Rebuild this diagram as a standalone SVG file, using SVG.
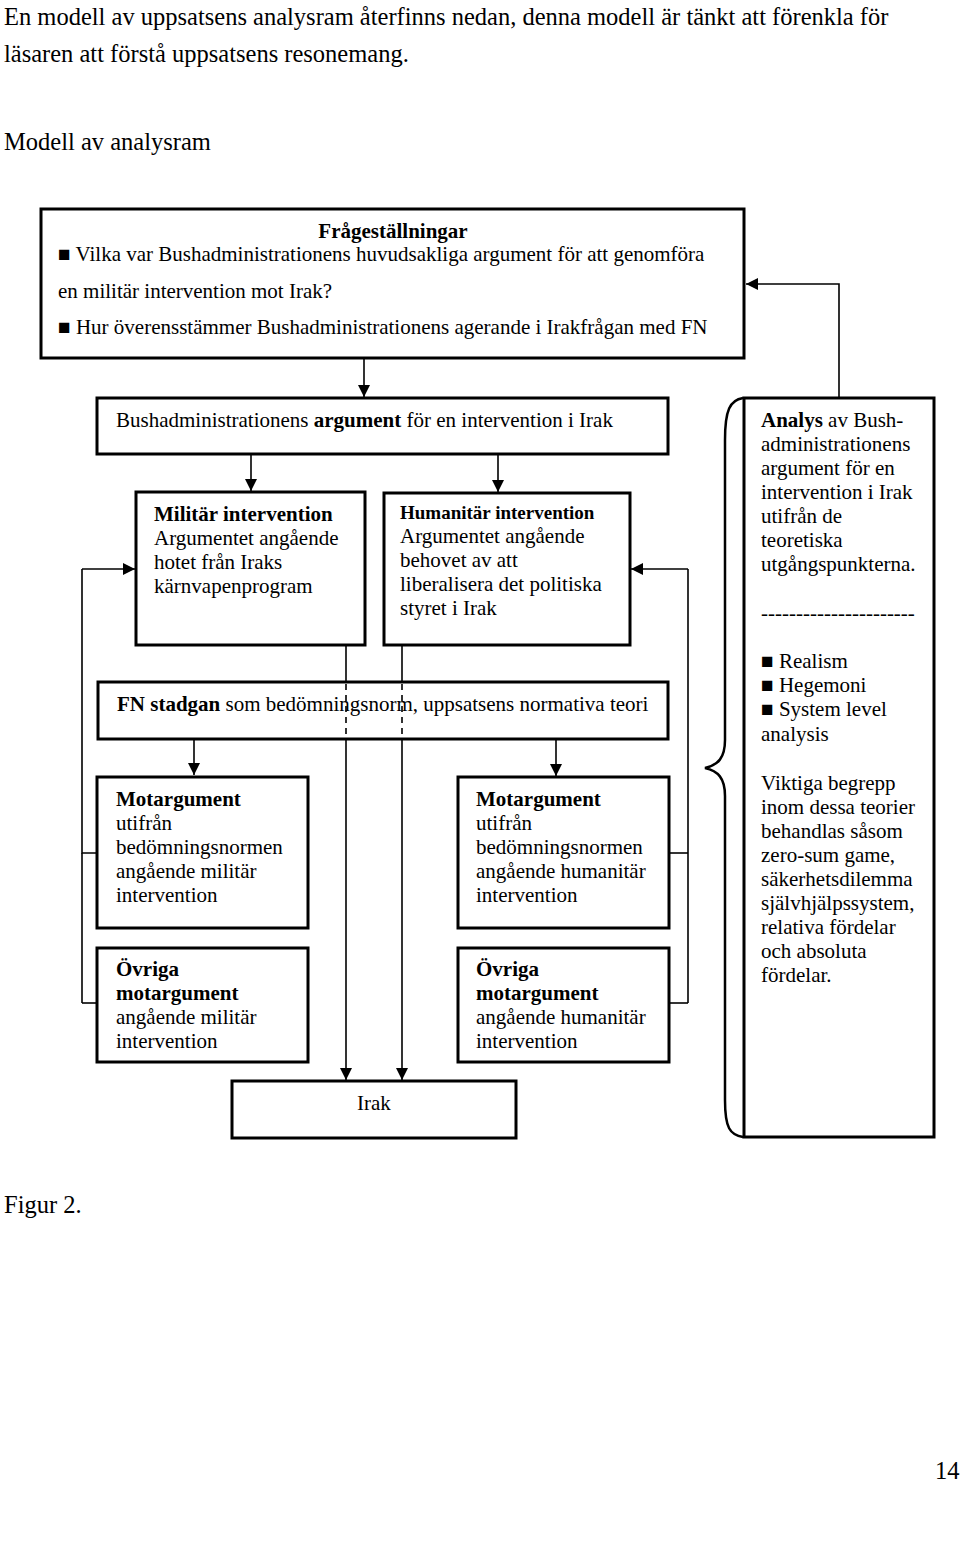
<svg xmlns="http://www.w3.org/2000/svg" width="960" height="1543" viewBox="0 0 960 1543">
<style>
text{font-family:"Liberation Serif","Times New Roman",serif;fill:#000}
.t{font-size:21px}
.h{font-size:24.5px}
.b{font-weight:bold}
.box{fill:#fff;stroke:#000;stroke-width:3}
.c{fill:none;stroke:#000;stroke-width:1.6}
.d{fill:none;stroke:#000;stroke-width:1.6;stroke-dasharray:6,5}
</style>
<defs>
<marker id="ah" viewBox="0 0 12 12" refX="12" refY="6" markerWidth="12" markerHeight="12" markerUnits="userSpaceOnUse" orient="auto">
<path d="M0,0 L12,6 L0,12 Z" fill="#000"/>
</marker>
</defs>
<rect width="960" height="1543" fill="#fff"/>
<text class="h" x="4" y="25">En modell av uppsatsens analysram återfinns nedan, denna modell är tänkt att förenkla för</text>
<text class="h" x="4" y="62">läsaren att förstå uppsatsens resonemang.</text>
<text class="h" x="4" y="150">Modell av analysram</text>

<g id="connectors">
<polyline class="c" points="839,398 839,284 746,284" marker-end="url(#ah)"/>
<line class="c" x1="364" y1="358" x2="364" y2="397" marker-end="url(#ah)"/>
<line class="c" x1="251" y1="454" x2="251" y2="491" marker-end="url(#ah)"/>
<line class="c" x1="498" y1="454" x2="498" y2="492" marker-end="url(#ah)"/>
<polyline class="c" points="97,853 82,853 82,569"/>
<line class="c" x1="82" y1="1003" x2="97" y2="1003"/>
<line class="c" x1="82" y1="853" x2="82" y2="1003"/>
<line class="c" x1="82" y1="569" x2="135" y2="569" marker-end="url(#ah)"/>
<line class="c" x1="669" y1="853" x2="688" y2="853"/>
<line class="c" x1="669" y1="1003" x2="688" y2="1003"/>
<line class="c" x1="688" y1="569" x2="688" y2="1003"/>
<line class="c" x1="688" y1="569" x2="631" y2="569" marker-end="url(#ah)"/>
<line class="c" x1="346" y1="645" x2="346" y2="682"/>
<line class="c" x1="346" y1="739" x2="346" y2="1080" marker-end="url(#ah)"/>
<line class="c" x1="402" y1="645" x2="402" y2="682"/>
<line class="c" x1="402" y1="739" x2="402" y2="1080" marker-end="url(#ah)"/>
<line class="c" x1="194" y1="739" x2="194" y2="775" marker-end="url(#ah)"/>
<line class="c" x1="556" y1="739" x2="556" y2="776" marker-end="url(#ah)"/>
<path class="c" style="stroke-width:2.5" d="M743,398 C730,400 725,410 725,440 L725,740 C725,758 718,765 705,768 C718,771 725,778 725,796 L725,1100 C725,1128 730,1135 743,1137"/>
</g>

<g id="fragestallningar">
<rect class="box" x="41" y="209" width="703" height="149"/>
<text class="t b" x="393" y="238" text-anchor="middle">Frågeställningar</text>
<text class="t" x="58" y="261">■ Vilka var Bushadministrationens huvudsakliga argument för att genomföra</text>
<text class="t" x="58" y="298">en militär intervention mot Irak?</text>
<text class="t" x="58" y="334">■ Hur överensstämmer Bushadministrationens agerande i Irakfrågan med FN</text>
</g>

<g id="bush-argument">
<rect class="box" x="97" y="398" width="571" height="56"/>
<text class="t" x="116" y="427">Bushadministrationens <tspan class="b">argument</tspan> för en intervention i Irak</text>
</g>

<g id="militar">
<rect class="box" x="136" y="492" width="229" height="153"/>
<text class="t b" x="154" y="521">Militär intervention</text>
<text class="t" x="154" y="545">Argumentet angående</text>
<text class="t" x="154" y="569">hotet från Iraks</text>
<text class="t" x="154" y="593">kärnvapenprogram</text>
</g>

<g id="humanitar">
<rect class="box" x="384" y="493" width="246" height="152"/>
<text class="b" style="font-size:19px" x="400" y="519">Humanitär intervention</text>
<text class="t" x="400" y="543">Argumentet angående</text>
<text class="t" x="400" y="567">behovet av att</text>
<text class="t" x="400" y="591">liberalisera det politiska</text>
<text class="t" x="400" y="615">styret i Irak</text>
</g>

<g id="fn-stadgan">
<rect class="box" x="98" y="682" width="570" height="57"/>
<line class="d" x1="346" y1="684" x2="346" y2="738"/>
<line class="d" x1="402" y1="684" x2="402" y2="738"/>
<text class="t" x="117" y="711"><tspan class="b">FN stadgan</tspan> som bedömningsnorm, uppsatsens normativa teori</text>
</g>

<g id="motargument-militar">
<rect class="box" x="97" y="777" width="211" height="151"/>
<text class="t b" x="116" y="806">Motargument</text>
<text class="t" x="116" y="830">utifrån</text>
<text class="t" x="116" y="854">bedömningsnormen</text>
<text class="t" x="116" y="878">angående militär</text>
<text class="t" x="116" y="902">intervention</text>
</g>

<g id="ovriga-militar">
<rect class="box" x="97" y="948" width="211" height="114"/>
<text class="t b" x="116" y="976">Övriga</text>
<text class="t b" x="116" y="1000">motargument</text>
<text class="t" x="116" y="1024">angående militär</text>
<text class="t" x="116" y="1048">intervention</text>
</g>

<g id="motargument-humanitar">
<rect class="box" x="458" y="777" width="211" height="151"/>
<text class="t b" x="476" y="806">Motargument</text>
<text class="t" x="476" y="830">utifrån</text>
<text class="t" x="476" y="854">bedömningsnormen</text>
<text class="t" x="476" y="878">angående humanitär</text>
<text class="t" x="476" y="902">intervention</text>
</g>

<g id="ovriga-humanitar">
<rect class="box" x="458" y="948" width="211" height="114"/>
<text class="t b" x="476" y="976">Övriga</text>
<text class="t b" x="476" y="1000">motargument</text>
<text class="t" x="476" y="1024">angående humanitär</text>
<text class="t" x="476" y="1048">intervention</text>
</g>

<g id="irak">
<rect class="box" x="232" y="1081" width="284" height="57"/>
<text class="t" x="357" y="1110">Irak</text>
</g>

<g id="analys">
<rect class="box" x="744" y="398" width="190" height="739"/>
<text class="t" x="761" y="427"><tspan class="b">Analys</tspan> av Bush-</text>
<text class="t" x="761" y="451">administrationens</text>
<text class="t" x="761" y="475">argument för en</text>
<text class="t" x="761" y="499">intervention i Irak</text>
<text class="t" x="761" y="523">utifrån de</text>
<text class="t" x="761" y="547">teoretiska</text>
<text class="t" x="761" y="571">utgångspunkterna.</text>
<text class="t" x="761" y="620">----------------------</text>
<text class="t" x="761" y="668">■ Realism</text>
<text class="t" x="761" y="692">■ Hegemoni</text>
<text class="t" x="761" y="716">■ System level</text>
<text class="t" x="761" y="741">analysis</text>
<text class="t" x="761" y="790">Viktiga begrepp</text>
<text class="t" x="761" y="814">inom dessa teorier</text>
<text class="t" x="761" y="838">behandlas såsom</text>
<text class="t" x="761" y="862">zero-sum game,</text>
<text class="t" x="761" y="886">säkerhetsdilemma</text>
<text class="t" x="761" y="910">självhjälpssystem,</text>
<text class="t" x="761" y="934">relativa fördelar</text>
<text class="t" x="761" y="958">och absoluta</text>
<text class="t" x="761" y="982">fördelar.</text>
</g>

<text class="h" x="4" y="1213">Figur 2.</text>
<text class="h" x="935" y="1479">14</text>
</svg>
